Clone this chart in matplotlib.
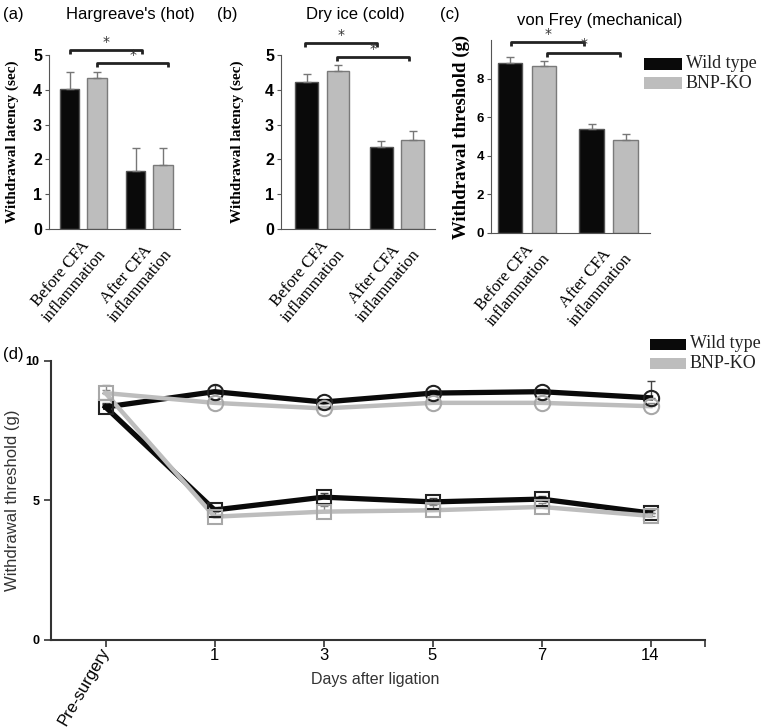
import matplotlib
matplotlib.use('Agg')
import matplotlib.pyplot as plt
from matplotlib.patches import Rectangle

W, H = 763, 727

# ---- data: bar panels (a)-(c) ----
groups = ['Before CFA\ninflammation', 'After CFA\ninflammation']
hot_wt = [4.02, 1.68]
hot_wt_err = [0.48, 0.65]
hot_ko = [4.35, 1.85]
hot_ko_err = [0.17, 0.48]
cold_wt = [4.22, 2.37]
cold_wt_err = [0.23, 0.16]
cold_ko = [4.55, 2.55]
cold_ko_err = [0.15, 0.27]
mech_wt = [8.85, 5.4]
mech_wt_err = [0.3, 0.28]
mech_ko = [8.65, 4.85]
mech_ko_err = [0.28, 0.28]

# ---- data: time course panel (d) ----
days = ['Pre-surgery', '1', '3', '5', '7', '14']
wt_contra = [8.35, 8.9, 8.53, 8.85, 8.9, 8.68]
wt_contra_err = [0.15, 0.25, 0.1, 0.1, 0.1, 0.62]
ko_contra = [8.85, 8.5, 8.3, 8.5, 8.5, 8.38]
ko_contra_err = [0.3, 0.12, 0.1, 0.1, 0.1, 0.12]
wt_ipsi = [8.35, 4.66, 5.12, 4.95, 5.05, 4.55]
wt_ipsi_err = [0.1, 0.12, 0.15, 0.15, 0.12, 0.1]
ko_ipsi = [8.85, 4.42, 4.6, 4.65, 4.77, 4.45]
ko_ipsi_err = [0.1, 0.15, 0.2, 0.2, 0.15, 0.1]

BLACK = '#0a0a0a'
GRAY = '#bdbdbd'


def rect(x0, x1, ytop, ybot):
    return [x0 / W, 1 - ybot / H, (x1 - x0) / W, (ybot - ytop) / H]


fig = plt.figure(figsize=(W / 100, H / 100), dpi=100)

pos = [0, 1, 2.4, 3.4]


def bar_panel(r, xlim, ylim, top, ticks, wt, wt_err, ko, ko_err, ylabel,
              ylab_x, brackets, tick_fs, ylab_fs):
    ax = fig.add_axes(r)
    xs_wt = [pos[0], pos[2]]
    xs_ko = [pos[1], pos[3]]
    ax.bar(xs_wt, wt, width=0.72, color=BLACK, edgecolor='#555555', lw=1,
           yerr=[[0, 0], wt_err], error_kw=dict(ecolor='#777777', lw=1, capsize=3))
    ax.bar(xs_ko, ko, width=0.72, color=GRAY, edgecolor='#7a7a7a', lw=1,
           yerr=[[0, 0], ko_err], error_kw=dict(ecolor='#777777', lw=1, capsize=3))
    ax.set_xlim(*xlim)
    ax.set_ylim(*ylim)
    for s in ['top', 'right']:
        ax.spines[s].set_visible(False)
    ax.spines['left'].set_bounds(0, top)
    ax.spines['left'].set_color('#555555')
    ax.spines['bottom'].set_color('#555555')
    ax.set_yticks(ticks)
    ax.set_yticklabels([str(t) for t in ticks], fontweight='bold',
                       fontsize=tick_fs, family='Liberation Sans')
    ax.tick_params(axis='y', length=3, color='#555555', pad=2)
    ax.set_xticks([0.5, 2.9])
    ax.set_xticklabels(groups, rotation=50, ha='right', va='top',
                       rotation_mode='anchor', family='Liberation Serif',
                       fontsize=12, multialignment='center')
    ax.tick_params(axis='x', length=0, pad=4)
    ax.set_ylabel(ylabel, family='Liberation Serif', fontweight='bold',
                  fontsize=ylab_fs)
    ax.yaxis.set_label_coords(ylab_x, top / ylim[1] / 2)
    dy = (ylim[1] - ylim[0]) * 0.02
    for x0, x1, y in brackets:
        ax.plot([x0, x0, x1, x1], [y - dy, y, y, y - dy], color='#222222', lw=2,
                solid_capstyle='butt')
        ax.text((x0 + x1) / 2, y + dy * 0.3, '*', ha='center', va='bottom',
                fontsize=10, color='#333333')
    return ax


# (a)
ax_a = bar_panel(rect(49, 180, 229 - 5.5 * 34.8, 229), (-0.75, 4.02), (0, 5.5), 5,
                 [0, 1, 2, 3, 4, 5], hot_wt, hot_wt_err, hot_ko, hot_ko_err,
                 'Withdrawal latency (sec)', (19 - 49) / 131,
                 [(0, 2.65, 5.14), (1, 3.6, 4.77)], 11.5, 11)
# (b)
ax_b = bar_panel(rect(281, 435, 229 - 5.8 * 34.8, 229), (-0.82, 4.12), (0, 5.8), 5,
                 [0, 1, 2, 3, 4, 5], cold_wt, cold_wt_err, cold_ko, cold_ko_err,
                 'Withdrawal latency (sec)', (244 - 281) / 154,
                 [(-0.05, 2.26, 5.34), (0.98, 3.28, 4.94)], 11.5, 11)
# (c)
ax_c = bar_panel(rect(491, 650, 233 - 10.6 * 19.25, 233), (-0.56, 4.12), (0, 10.6), 10,
                 [0, 2, 4, 6, 8], mech_wt, mech_wt_err, mech_ko, mech_ko_err,
                 'Withdrawal threshold (g)', (470 - 491) / 159,
                 [(0.03, 2.18, 9.92), (1.09, 3.24, 9.37)], 9.5, 13.5)

# titles and panel letters
fig.text(130 / W, 1 - 15 / H, "Hargreave's (hot)", ha='center', va='center',
         fontsize=12, family='Liberation Sans')
fig.text(355 / W, 1 - 15 / H, "Dry ice (cold)", ha='center', va='center',
         fontsize=12, family='Liberation Sans')
fig.text(600 / W, 1 - 20 / H, "von Frey (mechanical)", ha='center', va='center',
         fontsize=12, family='Liberation Sans')
for lab, x, y in [('(a)', 3, 14), ('(b)', 217, 14), ('(c)', 440, 14), ('(d)', 3, 355)]:
    fig.text(x / W, 1 - y / H, lab, ha='left', va='center', fontsize=12,
             family='Liberation Sans')


def legend(x, y0, dy, pw, ph):
    for i, (c, lab) in enumerate([(BLACK, 'Wild type'), (GRAY, 'BNP-KO')]):
        yc = y0 + i * dy
        fig.add_artist(Rectangle((x / W, 1 - (yc + ph / 2) / H), pw / W, ph / H,
                                 transform=fig.transFigure, color=c, lw=0))
        fig.text((x + pw + 4) / W, 1 - yc / H, lab, ha='left', va='center',
                 fontsize=13, family='Liberation Serif', color='#222222')


legend(644, 64, 19, 38, 12)

# (d)
ax_d = fig.add_axes(rect(51, 705, 361, 640))
xs = list(range(len(days)))
ax_d.errorbar(xs, wt_contra, yerr=[[0] * 6, wt_contra_err], color=BLACK, lw=3.8,
              ecolor='#444444', elinewidth=1, capsize=3, zorder=2)
ax_d.errorbar(xs, wt_ipsi, yerr=[[0] * 6, wt_ipsi_err], color=BLACK, lw=3.8,
              ecolor='#444444', elinewidth=1, capsize=3, zorder=2)
ax_d.errorbar(xs, ko_contra, yerr=[[0] * 6, ko_contra_err], color=GRAY, lw=3.2,
              ecolor='#888888', elinewidth=1, capsize=3, zorder=3)
ax_d.errorbar(xs, ko_ipsi, yerr=[[0] * 6, ko_ipsi_err], color=GRAY, lw=3.2,
              ecolor='#888888', elinewidth=1, capsize=3, zorder=3)
ax_d.plot(xs[1:], wt_contra[1:], 'o', ms=11, mfc='none', mec='#222222', mew=1.5, zorder=4)
ax_d.plot(xs[1:], ko_contra[1:], 'o', ms=11, mfc='none', mec='#a8a8a8', mew=1.5, zorder=4)
ax_d.plot(xs, wt_ipsi, 's', ms=10, mfc='none', mec='#222222', mew=1.5, zorder=4)
ax_d.plot(xs, ko_ipsi, 's', ms=10, mfc='none', mec='#a8a8a8', mew=1.5, zorder=4)
ax_d.set_xlim(-0.5, 5.5)
ax_d.set_ylim(0, 10)
for s in ['top', 'right']:
    ax_d.spines[s].set_visible(False)
ax_d.spines['left'].set_color('#333333')
ax_d.spines['bottom'].set_color('#333333')
ax_d.spines['left'].set_linewidth(1.5)
ax_d.spines['bottom'].set_linewidth(1.5)
ax_d.set_yticks([0, 5, 10])
ax_d.set_yticklabels(['0', '5', '10'], fontweight='bold', fontsize=9,
                     family='Liberation Sans')
ax_d.set_xticks(xs + [5.5])
ax_d.set_xticklabels(days + [''], fontsize=12, family='Liberation Sans')
pre = ax_d.get_xticklabels()[0]
pre.set_rotation(60)
pre.set_ha('right')
pre.set_va('center')
pre.set_rotation_mode('anchor')
ax_d.tick_params(length=5, width=1.2, color='#333333')
ax_d.tick_params(axis='x', pad=1)
ax_d.set_ylabel('Withdrawal threshold (g)', fontsize=12, family='Liberation Sans',
                color='#333333')
ax_d.yaxis.set_label_coords((20 - 51) / 654, 0.5)
ax_d.set_xlabel('Days after ligation', fontsize=11.5, family='Liberation Sans',
                color='#333333')
ax_d.xaxis.set_label_coords((375 - 51) / 654, -(672 - 640) / 279)

legend(650, 344, 19, 36, 11)

fig.savefig('out.png', dpi=100)
